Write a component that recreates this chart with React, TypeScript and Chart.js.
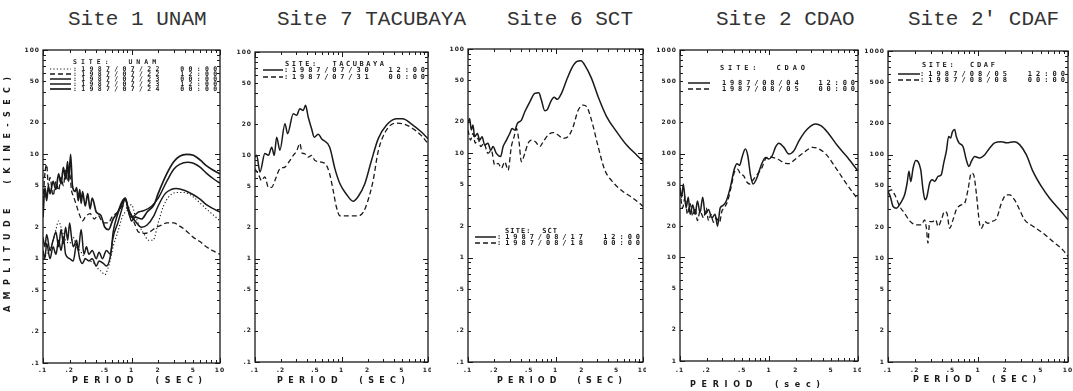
import React, { useEffect, useRef } from "react";
import { Chart, registerables } from "chart.js";

Chart.register(...registerables);

// ---------------- axis ticks ----------------
const X_TICKS = [0.1, 0.2, 0.5, 1, 2, 5, 10];
const X_TICK_LABELS = [".1", ".2", ".5", "1", "2", "5", "10"];
const Y_TICKS_LOW = [0.1, 0.2, 0.5, 1, 2, 5, 10, 20, 50, 100];
const Y_TICK_LABELS_LOW = [".1", ".2", ".5", "1", "2", "5", "10", "20", "50", "100"];
const Y_TICKS_HIGH = [1, 2, 5, 10, 20, 50, 100, 200, 500, 1000];
const Y_TICK_LABELS_HIGH = ["1", "2", "5", "10", "20", "50", "100", "200", "500", "1000"];

const TITLES = ["Site 1 UNAM", "Site 7 TACUBAYA", "Site 6 SCT", "Site 2 CDAO", "Site 2' CDAF"];

// ---------------- Site 1 UNAM ----------------
const UNAM_A_T = [0.1, 0.11, 0.12, 0.13, 0.14, 0.15, 0.16, 0.17, 0.18, 0.2, 0.22, 0.24, 0.26, 0.28, 0.3, 0.34, 0.38, 0.42, 0.46, 0.5, 0.54, 0.58, 0.62, 0.7, 0.8, 0.9, 1.0, 1.1, 1.25, 1.4, 1.55, 1.75, 2.0, 2.3, 2.7, 3.2, 4, 5, 6, 7, 8.5, 10];
const UNAM_A_V = [1.0, 1.1, 1.2, 1.5, 1.9, 2.3, 2.0, 1.7, 1.5, 1.4, 1.6, 1.3, 1.2, 1.1, 1.0, 0.95, 0.9, 0.8, 0.75, 0.7, 0.8, 1.0, 1.3, 1.8, 2.6, 2.9, 3.3, 2.6, 2.0, 1.7, 1.5, 1.5, 2.2, 3.2, 4.0, 4.3, 4.3, 3.9, 3.4, 3.0, 2.6, 2.3];

const UNAM_B_T = [0.1, 0.105, 0.11, 0.115, 0.12, 0.13, 0.14, 0.15, 0.16, 0.17, 0.18, 0.19, 0.2, 0.21, 0.22, 0.24, 0.26, 0.28, 0.3, 0.34, 0.38, 0.42, 0.46, 0.5, 0.55, 0.6, 0.7, 0.8, 0.9, 1.0, 1.1, 1.2, 1.4, 1.6, 1.9, 2.2, 2.5, 3, 3.5, 4, 5, 6, 7, 8.5, 10];
const UNAM_B_V = [3.5, 6.5, 8.0, 5.0, 6.0, 4.0, 5.5, 4.5, 6.0, 5.0, 7.0, 5.5, 6.5, 4.5, 4.0, 3.2, 2.6, 2.3, 2.5, 2.7, 2.4, 2.6, 2.3, 2.2, 2.2, 2.5, 2.8, 3.2, 3.0, 2.6, 2.1, 1.8, 1.75, 1.8, 2.0, 2.1, 2.2, 2.2, 2.05, 1.9, 1.6, 1.45, 1.3, 1.18, 1.1];

const UNAM_C_T = [0.1, 0.105, 0.11, 0.12, 0.13, 0.14, 0.15, 0.16, 0.17, 0.18, 0.2, 0.22, 0.24, 0.26, 0.28, 0.3, 0.33, 0.36, 0.4, 0.43, 0.48, 0.52, 0.57, 0.62, 0.7, 0.78, 0.85, 0.9, 1.0, 1.1, 1.3, 1.5, 1.8, 2.0, 2.4, 2.8, 3.2, 4, 5, 6, 7, 8.5, 10];
const UNAM_C_V = [1.2, 1.0, 1.4, 1.0, 1.3, 1.1, 1.5, 1.2, 1.6, 1.1, 1.0, 0.95, 1.4, 1.0, 0.9, 1.0, 0.95, 1.0, 0.85, 0.95, 0.9, 0.85, 1.0, 1.6, 2.2, 3.0, 3.8, 3.2, 2.6, 2.3, 2.0, 2.1, 2.6, 3.2, 4.2, 4.6, 4.7, 4.5, 4.1, 3.7, 3.3, 3.0, 2.8];

const UNAM_D_T = [0.1, 0.105, 0.11, 0.12, 0.13, 0.14, 0.15, 0.16, 0.17, 0.18, 0.19, 0.2, 0.21, 0.22, 0.24, 0.25, 0.27, 0.29, 0.31, 0.33, 0.36, 0.4, 0.43, 0.47, 0.52, 0.58, 0.62, 0.7, 0.8, 0.85, 0.95, 1.0, 1.2, 1.4, 1.7, 2.0, 2.5, 3, 3.5, 4.3, 5, 6, 7, 8.5, 10];
const UNAM_D_V = [1.6, 1.3, 1.7, 1.2, 1.5, 1.8, 1.3, 1.9, 1.4, 2.0, 1.5, 2.2, 1.6, 1.3, 1.5, 1.2, 1.9, 1.1, 1.3, 1.1, 1.2, 1.0, 1.15, 1.0, 1.2, 1.1, 1.8, 2.7, 3.5, 3.7, 2.6, 2.5, 2.8, 2.9, 3.2, 3.8, 5.5, 7.2, 8.0, 8.4, 8.2, 7.5, 6.6, 5.8, 5.3];

const UNAM_E_T = [0.1, 0.105, 0.11, 0.115, 0.12, 0.13, 0.14, 0.15, 0.16, 0.17, 0.18, 0.19, 0.195, 0.205, 0.215, 0.23, 0.24, 0.25, 0.26, 0.27, 0.28, 0.3, 0.32, 0.34, 0.36, 0.4, 0.45, 0.5, 0.55, 0.62, 0.7, 0.78, 0.85, 0.92, 1.0, 1.1, 1.3, 1.5, 1.8, 2.0, 2.5, 3, 3.5, 4.2, 5, 6, 7, 8.5, 10];
const UNAM_E_V = [2.5, 4.8, 3.6, 5.0, 4.2, 5.5, 4.6, 6.5, 5.2, 7.5, 5.8, 8.5, 5.5, 10, 5.0, 4.4, 4.8, 3.6, 4.6, 3.4, 4.4, 3.2, 4.2, 3.0, 3.8, 2.8, 2.6, 2.0, 1.9, 2.4, 2.8, 3.5, 3.8, 3.0, 2.3, 2.5, 2.4, 2.8, 3.3, 4.2, 6.5, 8.5, 9.6, 10, 9.8, 8.8, 7.8, 7.0, 6.5];

// ---------------- Site 7 TACUBAYA ----------------
const TAC_S_T = [0.1, 0.1045, 0.114, 0.13, 0.143, 0.156, 0.167, 0.178, 0.194, 0.222, 0.238, 0.277, 0.303, 0.33, 0.361, 0.384, 0.412, 0.451, 0.484, 0.538, 0.588, 0.73, 0.84, 0.96, 1.14, 1.36, 1.56, 1.86, 2.22, 2.66, 3.3, 4.3, 5.1, 6.4, 8.4, 10];
const TAC_S_V = [9.6, 10, 6.9, 10.4, 10, 12, 10, 15, 11.2, 20.2, 16.2, 25.3, 24.4, 28.3, 27.2, 30.5, 23.5, 18.1, 15, 16, 14.5, 12, 7.4, 5.3, 4.2, 3.6, 4.0, 5.3, 8.9, 14.5, 19.5, 22.6, 22.6, 20.2, 16.8, 14.5];
const TAC_D_T = [0.1, 0.109, 0.119, 0.13, 0.143, 0.156, 0.17, 0.194, 0.222, 0.253, 0.277, 0.303, 0.33, 0.351, 0.373, 0.412, 0.451, 0.493, 0.588, 0.67, 0.73, 0.8, 0.87, 0.96, 1.19, 1.56, 1.78, 2.03, 2.32, 2.66, 3.3, 4.3, 5.1, 6.4, 8.4, 10];
const TAC_D_V = [7.4, 6.6, 5.7, 6.2, 4.9, 4.9, 5.7, 7.4, 7.7, 8.9, 10, 11, 13, 10.5, 10.4, 9.6, 10, 8.9, 8.6, 8, 6.6, 4.6, 3.2, 2.6, 2.6, 2.6, 2.8, 3.7, 5.7, 11, 17.5, 20.5, 20.2, 18.6, 15.5, 13];

// ---------------- Site 6 SCT ----------------
const SCT_S_T = [0.1, 0.1045, 0.109, 0.114, 0.119, 0.128, 0.136, 0.145, 0.155, 0.169, 0.182, 0.193, 0.211, 0.236, 0.252, 0.275, 0.3, 0.319, 0.342, 0.367, 0.408, 0.446, 0.509, 0.58, 0.644, 0.69, 0.755, 0.81, 0.88, 0.965, 1.05, 1.17, 1.34, 1.53, 1.74, 1.95, 2.16, 2.58, 3.07, 3.85, 5.0, 6.5, 8.5, 10];
const SCT_S_V = [19.4, 21.6, 16.7, 18.7, 14.4, 15.5, 13.4, 14.4, 12, 12.5, 10.7, 11.6, 10, 9.3, 11.6, 13.4, 15.5, 17.3, 16.7, 19.4, 20.8, 25, 31.2, 37.6, 38.1, 32.4, 25.6, 26.4, 31.2, 34.4, 32.9, 37.6, 50.4, 65.3, 75.6, 77.3, 70.2, 52.3, 34.9, 22.4, 16.1, 12, 9.6, 8.4];
const SCT_D_T = [0.1, 0.107, 0.114, 0.121, 0.13, 0.14, 0.152, 0.169, 0.185, 0.202, 0.221, 0.241, 0.263, 0.287, 0.313, 0.336, 0.358, 0.381, 0.408, 0.446, 0.486, 0.531, 0.59, 0.663, 0.723, 0.824, 0.94, 1.07, 1.22, 1.39, 1.59, 1.82, 2.07, 2.27, 2.58, 3.07, 3.66, 4.36, 5.7, 7.4, 9.2, 10];
const SCT_D_V = [16.7, 13.4, 15.5, 12.5, 13.9, 11.6, 12.5, 10, 10.7, 7.7, 8.0, 7.2, 8.3, 6.9, 11.6, 14.4, 17.3, 13.4, 8.3, 10, 12.5, 13.4, 12.9, 11.6, 12.9, 15, 15.8, 15, 13.9, 14.4, 18, 26, 29, 28, 20.8, 11.6, 6.9, 5.5, 4.4, 3.8, 3.3, 3.1];

// ---------------- Site 2 CDAO ----------------
const CDAO_S_T = [0.1, 0.1044, 0.109, 0.117, 0.124, 0.13, 0.139, 0.148, 0.157, 0.168, 0.18, 0.192, 0.209, 0.228, 0.248, 0.264, 0.283, 0.303, 0.331, 0.367, 0.408, 0.437, 0.468, 0.497, 0.542, 0.577, 0.618, 0.662, 0.735, 0.815, 0.913, 0.996, 1.09, 1.18, 1.29, 1.47, 1.67, 1.91, 2.17, 2.7, 3.35, 3.82, 4.54, 5.89, 7.64, 10];
const CDAO_S_V = [47, 38, 51, 30, 38, 26, 32, 26, 35, 27, 38, 26, 29, 24, 26, 20, 30, 31.5, 35, 47, 71, 80, 77, 92, 111, 96, 63, 51, 59, 77, 92, 89, 96, 115, 126, 115, 99, 107, 133, 173, 193, 186, 161, 119, 92, 68];
const CDAO_D_T = [0.1, 0.107, 0.114, 0.121, 0.13, 0.139, 0.148, 0.157, 0.168, 0.184, 0.197, 0.209, 0.222, 0.238, 0.255, 0.278, 0.296, 0.314, 0.343, 0.374, 0.408, 0.444, 0.476, 0.52, 0.566, 0.607, 0.674, 0.768, 0.837, 0.913, 0.996, 1.09, 1.24, 1.47, 1.67, 1.99, 2.48, 3.08, 3.5, 4.35, 5.4, 7.01, 10];
const CDAO_D_V = [44, 30, 38, 26, 33, 25, 30, 22.6, 28, 24, 30, 22.6, 26, 21.8, 24, 21.8, 28, 30, 35, 47, 66, 71, 64, 61, 53, 51, 57, 66, 74, 89, 93.5, 92, 89, 82, 80, 89, 103, 115, 113, 99, 77, 55, 36];

// ---------------- Site 2' CDAF ----------------
const CDAF_S_T = [0.1, 0.106, 0.114, 0.124, 0.141, 0.153, 0.163, 0.171, 0.179, 0.19, 0.203, 0.215, 0.231, 0.245, 0.258, 0.271, 0.29, 0.311, 0.33, 0.36, 0.391, 0.416, 0.445, 0.472, 0.497, 0.518, 0.55, 0.574, 0.615, 0.681, 0.741, 0.794, 0.843, 0.918, 1.04, 1.19, 1.35, 1.53, 1.82, 2.07, 2.55, 2.9, 3.44, 4.08, 5.06, 6.25, 8.07, 10];
const CDAF_S_V = [44, 39.5, 31.6, 30.5, 35.3, 41, 53, 69, 55, 74, 88, 86, 71.6, 45.9, 36.7, 39.5, 53, 57.3, 55.2, 61.7, 64, 83, 108, 150, 145, 165, 175, 150, 130, 120, 89.5, 77, 86, 96, 93, 100, 116, 130, 133, 130, 133, 125, 100, 69, 49.4, 38, 29.4, 23.6];
const CDAF_D_T = [0.1, 0.109, 0.119, 0.135, 0.153, 0.174, 0.206, 0.234, 0.255, 0.267, 0.278, 0.29, 0.311, 0.339, 0.36, 0.391, 0.426, 0.452, 0.484, 0.527, 0.574, 0.653, 0.711, 0.774, 0.843, 0.895, 0.958, 1.04, 1.09, 1.19, 1.29, 1.41, 1.6, 1.82, 2.07, 2.25, 2.55, 2.9, 3.3, 4.08, 5.27, 6.81, 8.8, 10];
const CDAF_D_V = [44, 45.8, 41, 31.6, 27.2, 23, 21, 21, 23.5, 19.5, 14, 22.6, 22.6, 23.5, 20.3, 23.5, 28.3, 27.2, 19.5, 23.5, 29.4, 32.8, 34.1, 45.9, 66.5, 64, 42.6, 21.6, 19.5, 22.6, 21.8, 22.6, 24, 34.1, 41, 41, 36.7, 29.4, 23.5, 20.4, 17.5, 14.5, 12, 10.4];

// ---------------- styling / layout ----------------
const INK = "#1a1a1a";
const DOT = [1.2, 2.2];
const DASH = [5, 3];
const SOLID: number[] = [];

type Series = { label: string; t: number[]; v: number[]; dash: number[]; width: number };
type Legend = {
  title: string; titleX1: number; titleX2: number; titleY: number;
  sampleX1: number; sampleX2: number; textX1: number; textX2: number;
  rowsY: number[]; font: string;
};
type Panel = {
  key: string; cx: number; cy: number; cw: number; ch: number;
  L: number; R: number; T: number; B: number;
  yMin: number; yMax: number; yTicks: number[]; yLabels: string[];
  series: Series[]; legend: Legend;
  xTitle: { text: string; x1: number; x2: number; y: number };
  yTitle?: { text: string; x: number; y1: number; y2: number };
};

const LEGEND_FONT = "bold 7px 'DejaVu Sans Mono'";

const PANELS: Panel[] = [
  {
    key: "unam", cx: 0, cy: 36, cw: 224, ch: 355, L: 43, R: 220, T: 50, B: 363,
    yMin: 0.1, yMax: 100, yTicks: Y_TICKS_LOW, yLabels: Y_TICK_LABELS_LOW,
    series: [
      { label: ":1987/07/22  00:00", t: UNAM_A_T, v: UNAM_A_V, dash: DOT, width: 1.1 },
      { label: ":1987/07/22  12:00", t: UNAM_B_T, v: UNAM_B_V, dash: DASH, width: 1.3 },
      { label: ":1987/07/23  00:00", t: UNAM_C_T, v: UNAM_C_V, dash: SOLID, width: 1.5 },
      { label: ":1987/07/23  12:00", t: UNAM_D_T, v: UNAM_D_V, dash: SOLID, width: 1.5 },
      { label: ":1987/07/24  00:00", t: UNAM_E_T, v: UNAM_E_V, dash: SOLID, width: 1.7 },
    ],
    legend: { title: "SITE:  UNAM", titleX1: 73, titleX2: 156, titleY: 62, sampleX1: 50, sampleX2: 71, textX1: 73, textX2: 217, rowsY: [69, 74, 79, 84, 89], font: "bold 6.5px 'DejaVu Sans Mono'" },
    xTitle: { text: "PERIOD  (SEC)", x1: 72, x2: 202, y: 381 },
    yTitle: { text: "AMPLITUDE  (KINE-SEC)", x: 8, y1: 77, y2: 312 },
  },
  {
    key: "tac", cx: 215, cy: 36, cw: 216, ch: 355, L: 255, R: 428, T: 52, B: 362,
    yMin: 0.1, yMax: 100, yTicks: Y_TICKS_LOW, yLabels: Y_TICK_LABELS_LOW,
    series: [
      { label: ":1987/07/30  12:00", t: TAC_S_T, v: TAC_S_V, dash: SOLID, width: 1.5 },
      { label: ":1987/07/31  00:00", t: TAC_D_T, v: TAC_D_V, dash: DASH, width: 1.3 },
    ],
    legend: { title: "SITE:  TACUBAYA", titleX1: 285, titleX2: 384, titleY: 64, sampleX1: 263, sampleX2: 283, textX1: 284, textX2: 425, rowsY: [70, 77], font: LEGEND_FONT },
    xTitle: { text: "PERIOD  (SEC)", x1: 277, x2: 405, y: 381 },
  },
  {
    key: "sct", cx: 428, cy: 36, cw: 218, ch: 355, L: 468, R: 643, T: 49, B: 362,
    yMin: 0.1, yMax: 100, yTicks: Y_TICKS_LOW, yLabels: Y_TICK_LABELS_LOW,
    series: [
      { label: ":1987/08/17  12:00", t: SCT_S_T, v: SCT_S_V, dash: SOLID, width: 1.5 },
      { label: ":1987/08/18  00:00", t: SCT_D_T, v: SCT_D_V, dash: DASH, width: 1.3 },
    ],
    legend: { title: "SITE:  SCT", titleX1: 505, titleX2: 557, titleY: 231, sampleX1: 475, sampleX2: 496, textX1: 497, textX2: 640, rowsY: [237, 243], font: LEGEND_FONT },
    xTitle: { text: "PERIOD  (SEC)", x1: 497, x2: 622, y: 381 },
  },
  {
    key: "cdao", cx: 640, cy: 36, cw: 221, ch: 355, L: 680, R: 858, T: 50, B: 361,
    yMin: 1, yMax: 1000, yTicks: Y_TICKS_HIGH, yLabels: Y_TICK_LABELS_HIGH,
    series: [
      { label: "1987/08/04  12:00", t: CDAO_S_T, v: CDAO_S_V, dash: SOLID, width: 1.5 },
      { label: "1987/08/05  00:00", t: CDAO_D_T, v: CDAO_D_V, dash: DASH, width: 1.3 },
    ],
    legend: { title: "SITE:  CDAO", titleX1: 720, titleX2: 805, titleY: 68, sampleX1: 688, sampleX2: 710, textX1: 722, textX2: 855, rowsY: [83, 89], font: LEGEND_FONT },
    xTitle: { text: "PERIOD  (sec)", x1: 690, x2: 820, y: 385 },
  },
  {
    key: "cdaf", cx: 848, cy: 36, cw: 224, ch: 355, L: 888, R: 1068, T: 51, B: 362,
    yMin: 1, yMax: 1000, yTicks: Y_TICKS_HIGH, yLabels: Y_TICK_LABELS_HIGH,
    series: [
      { label: ":1987/08/05  12:00", t: CDAF_S_T, v: CDAF_S_V, dash: SOLID, width: 1.5 },
      { label: ":1987/08/08  00:00", t: CDAF_D_T, v: CDAF_D_V, dash: DASH, width: 1.3 },
    ],
    legend: { title: "SITE:  CDAF", titleX1: 922, titleX2: 995, titleY: 65, sampleX1: 898, sampleX2: 920, textX1: 920, textX2: 1065, rowsY: [74, 80], font: LEGEND_FONT },
    xTitle: { text: "PERIOD  (SEC)", x1: 913, x2: 1036, y: 380 },
  },
];

const TITLE_POS = [
  { x: 68 }, { x: 277 }, { x: 507 }, { x: 716 }, { x: 908 },
];

// draw text stretched between x1 and x2 using letter spacing
function fitText(ctx: any, text: string, x1: number, x2: number, y: number, font: string) {
  ctx.font = font;
  ctx.letterSpacing = "0px";
  const w0 = ctx.measureText(text).width;
  const n = text.length;
  const ls = n > 1 ? (x2 - x1 - w0) / (n - 1) : 0;
  ctx.letterSpacing = ls.toFixed(2) + "px";
  ctx.textAlign = "left";
  ctx.textBaseline = "middle";
  ctx.fillText(text, x1, y);
  ctx.letterSpacing = "0px";
}

function logMarks(min: number, max: number) {
  const out: { v: number; major: boolean }[] = [];
  const e0 = Math.floor(Math.log10(min));
  const e1 = Math.ceil(Math.log10(max));
  for (let e = e0; e <= e1; e++) {
    for (let m = 1; m < 10; m++) {
      const v = m * Math.pow(10, e);
      if (v >= min * 0.999 && v <= max * 1.001) out.push({ v, major: m === 1 });
    }
  }
  return out;
}

function makeDecor(p: Panel) {
  return {
    id: "decor-" + p.key,
    afterDraw(chart: any) {
      const ctx = chart.ctx;
      const a = chart.chartArea;
      const xs = chart.scales.x;
      const ys = chart.scales.y;
      const ox = p.cx;
      const oy = p.cy;
      ctx.save();
      ctx.strokeStyle = INK;
      ctx.fillStyle = INK;
      ctx.setLineDash([]);
      // frame
      ctx.lineWidth = 1.3;
      ctx.strokeRect(a.left, a.top, a.right - a.left, a.bottom - a.top);
      // inward tick marks on all sides
      ctx.lineWidth = 1;
      ctx.beginPath();
      for (const m of logMarks(xs.min, xs.max)) {
        const px = Math.round(xs.getPixelForValue(m.v)) + 0.5;
        const len = m.major ? 5 : 3;
        ctx.moveTo(px, a.bottom); ctx.lineTo(px, a.bottom - len);
        ctx.moveTo(px, a.top); ctx.lineTo(px, a.top + len);
      }
      for (const m of logMarks(ys.min, ys.max)) {
        const py = Math.round(ys.getPixelForValue(m.v)) + 0.5;
        const len = m.major ? 5 : 3;
        ctx.moveTo(a.left, py); ctx.lineTo(a.left + len, py);
        ctx.moveTo(a.right, py); ctx.lineTo(a.right - len, py);
      }
      ctx.stroke();
      // tick labels
      ctx.font = "bold 6px 'DejaVu Sans'";
      ctx.letterSpacing = "1px";
      ctx.textBaseline = "middle";
      ctx.textAlign = "center";
      xs.ticks.forEach((tk: any) => {
        const i = X_TICKS.indexOf(tk.value);
        if (i < 0) return;
        ctx.fillText(X_TICK_LABELS[i], xs.getPixelForValue(tk.value), 370 - oy);
      });
      ctx.textAlign = "right";
      ys.ticks.forEach((tk: any) => {
        const i = p.yTicks.indexOf(tk.value);
        if (i < 0) return;
        ctx.fillText(p.yLabels[i], a.left - 3, ys.getPixelForValue(tk.value));
      });
      ctx.letterSpacing = "0px";
      // axis titles
      fitText(ctx, p.xTitle.text, p.xTitle.x1 - ox, p.xTitle.x2 - ox, p.xTitle.y - oy, "bold 8px 'DejaVu Sans'");
      if (p.yTitle) {
        const yt = p.yTitle;
        ctx.save();
        ctx.translate(yt.x - ox, (yt.y1 + yt.y2) / 2 - oy);
        ctx.rotate(-Math.PI / 2);
        const h = (yt.y2 - yt.y1) / 2;
        fitText(ctx, yt.text, -h, h, 0, "bold 8px 'DejaVu Sans'");
        ctx.restore();
      }
      // legend
      const lg = p.legend;
      fitText(ctx, lg.title, lg.titleX1 - ox, lg.titleX2 - ox, lg.titleY - oy, lg.font);
      chart.data.datasets.forEach((ds: any, i: number) => {
        const y = lg.rowsY[i] - oy;
        ctx.lineWidth = ds.borderWidth;
        ctx.setLineDash(ds.borderDash || []);
        ctx.beginPath();
        ctx.moveTo(lg.sampleX1 - ox, y);
        ctx.lineTo(lg.sampleX2 - ox, y);
        ctx.stroke();
        ctx.setLineDash([]);
        fitText(ctx, ds.label, lg.textX1 - ox, lg.textX2 - ox, y, lg.font);
      });
      ctx.restore();
    },
  };
}

function PanelChart({ p }: { p: Panel }) {
  const ref = useRef<HTMLCanvasElement>(null);
  useEffect(() => {
    const canvas = ref.current;
    if (!canvas) return;
    const chart = new Chart(canvas, {
      type: "line",
      data: {
        datasets: p.series.map((s) => ({
          label: s.label,
          data: s.t.map((t, i) => ({ x: t, y: s.v[i] })),
          borderColor: INK,
          borderWidth: s.width,
          borderDash: s.dash,
          pointRadius: 0,
          fill: false,
          cubicInterpolationMode: "monotone" as const,
        })),
      },
      options: {
        animation: false,
        responsive: false,
        maintainAspectRatio: false,
        devicePixelRatio: 1,
        events: [],
        layout: {
          autoPadding: false,
          padding: { top: p.T - p.cy, right: p.cx + p.cw - p.R, left: 0, bottom: 0 },
        },
        plugins: {
          legend: { display: false },
          tooltip: { enabled: false },
          title: { display: false },
        },
        scales: {
          x: {
            type: "logarithmic",
            min: 0.1,
            max: 10,
            grid: { display: false },
            border: { display: false },
            ticks: { display: false, autoSkip: false },
            afterBuildTicks: (s: any) => { s.ticks = X_TICKS.map((v) => ({ value: v })); },
            afterFit: (s: any) => { s.height = p.ch - (p.B - p.cy); },
          },
          y: {
            type: "logarithmic",
            min: p.yMin,
            max: p.yMax,
            grid: { display: false },
            border: { display: false },
            ticks: { display: false, autoSkip: false },
            afterBuildTicks: (s: any) => { s.ticks = p.yTicks.map((v) => ({ value: v })); },
            afterFit: (s: any) => { s.width = p.L - p.cx; },
          },
        },
      } as any,
      plugins: [makeDecor(p)],
    });
    return () => chart.destroy();
  }, [p]);
  return (
    <canvas
      ref={ref}
      width={p.cw}
      height={p.ch}
      style={{ position: "absolute", left: p.cx, top: p.cy, width: p.cw, height: p.ch }}
    />
  );
}

export default function App() {
  return (
    <div style={{ position: "fixed", left: 0, top: 0, width: 1073, height: 391, background: "#fff", overflow: "hidden" }}>
      {TITLES.map((t, i) => (
        <div
          key={t}
          style={{
            position: "absolute",
            left: TITLE_POS[i].x,
            top: 9,
            fontFamily: "'Liberation Mono', 'Courier New', monospace",
            fontSize: 21,
            lineHeight: "21px",
            whiteSpace: "pre",
            color: "#333",
          }}
        >
          {t}
        </div>
      ))}
      {PANELS.map((p) => (
        <PanelChart key={p.key} p={p} />
      ))}
    </div>
  );
}
